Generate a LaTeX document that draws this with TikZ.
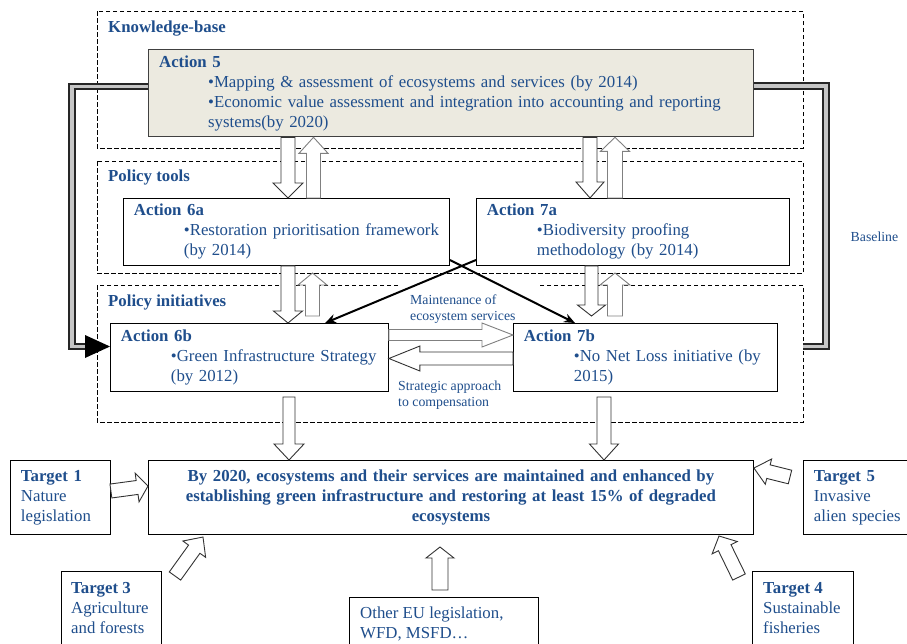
\documentclass[tikz,border=0pt]{standalone}
\usepackage{fontspec}
\setmainfont{Liberation Serif}
\usetikzlibrary{calc,arrows.meta}
\definecolor{txtblue}{RGB}{31,78,140}
\definecolor{beige}{RGB}{236,234,224}
\newcommand\fbig{\fontsize{16.8}{20}\selectfont}
\newcommand\fsml{\fontsize{13.8}{15.5}\selectfont}
\newcommand\myind{\hspace*{50pt}}
\newcommand\blkarr[6][]{%
  \coordinate (baT) at (#2);
  \coordinate (baH) at (#3);
  \coordinate (baB) at ($(baH)!#6!(baT)$);
  \draw[barr,#1] ($(baT)!#4!90:(baH)$) -- ($(baB)!#4!90:(baH)$) -- ($(baB)!#5!90:(baH)$) -- (baH) -- ($(baB)!#5!-90:(baH)$) -- ($(baB)!#4!-90:(baH)$) -- ($(baT)!#4!-90:(baH)$) -- cycle;}
\begin{document}
\begin{tikzpicture}[x=1pt,y=-1pt,
  box/.style={draw=black, line width=0.9pt, fill=white, anchor=north west, inner xsep=10.5pt, inner ysep=0pt, align=left, font=\fbig, text=txtblue},
  txt/.style={font=\fbig, text=txtblue, align=left, inner sep=0pt},
  stxt/.style={font=\fsml, text=txtblue, align=left, inner sep=0pt},
  lbl/.style={font=\fbig\bfseries, text=txtblue, inner sep=0pt},
  region/.style={draw=black, dash pattern=on 4.5pt off 2.5pt, line width=0.7pt},
  barr/.style={fill=white, line width=0.9pt, line join=miter},
  darr/.style={draw=black!80},
  uarr/.style={draw=black!50},
  dbl/.style={draw=black!85, double=gray!45, line width=2.1pt, double distance=3.4pt, line join=miter},
  cross/.style={draw=black, line width=2pt, -{Stealth[length=11pt,width=9pt]}}
]
\useasboundingbox (0,0) rectangle (907,643);
\clip (0,0) rectangle (907,643);
\fill[white] (0,0) rectangle (907,643);

% regions
\draw[region] (97,11) rectangle (803,148);
\node[lbl, anchor=base west] (kbl) at (108,32.5) {Knowledge-base};
\draw[region] (97,161) rectangle (803,273);
\node[lbl, anchor=base west] (ptl) at (108,181.5) {Policy tools};
\draw[region] (398,285) -- (97,285) -- (97,422) -- (803,422) -- (803,285) -- (540,285);
\node[lbl, anchor=base west] (pil) at (108,306.5) {Policy initiatives};

% boxes
\node[box, fill=beige, draw=black!75, line width=1.3pt, text width=584pt, minimum height=87pt] (a5) at (148,49)
 {\textbf{Action 5}\\\hspace*{49pt}\mbox{•Mapping \& assessment of ecosystems and services (by 2014)}\\\hspace*{49pt}\mbox{•Economic value assessment and integration into accounting and reporting}\\\hspace*{49pt}systems(by 2020)};
\node[box, text width=305pt, minimum height=67pt] (a6a) at (123,198)
 {\textbf{Action 6a}\\\myind\mbox{•Restoration prioritisation framework}\\\myind(by 2014)};
\node[box, text width=292pt, minimum height=67pt] (a7a) at (476,198)
 {\textbf{Action 7a}\\\myind\mbox{•Biodiversity proofing}\\\myind\mbox{methodology (by 2014)}};
\node[box, text width=257pt, minimum height=68pt] (a6b) at (110,323)
 {\textbf{Action 6b}\\\myind\mbox{•Green Infrastructure Strategy}\\\myind(by 2012)};
\node[box, text width=243pt, minimum height=68pt] (a7b) at (513,323)
 {\textbf{Action 7b}\\\myind\mbox{•No Net Loss initiative (by}\\\myind 2015)};
\node[box, align=center, text width=584pt, minimum height=74pt, font=\fbig\bfseries] (goal) at (148,460)
 {By 2020, ecosystems and their services are maintained and enhanced by\\establishing green infrastructure and restoring at least 15\% of degraded\\ecosystems};
\node[box, text width=79pt, minimum height=74pt] (t1) at (10,460) {\textbf{Target 1}\\Nature\\legislation};
\node[box, text width=89pt, minimum height=74pt] (t5) at (803,460) {\textbf{Target 5}\\Invasive\\\mbox{alien species}};
\node[box, minimum width=100pt, minimum height=100pt] (t3) at (61,571) {};
\node[txt, anchor=north west] (t3t) at (71,582) {\textbf{Target 3}\\Agriculture\\and forests};
\node[box, minimum width=101pt, minimum height=100pt] (t4) at (752,571) {};
\node[txt, anchor=north west] (t4t) at (763,582) {\textbf{Target 4}\\Sustainable\\fisheries};
\node[box, minimum width=189pt, minimum height=80pt] (oth) at (349,597) {};
\node[txt, anchor=north west] (otht) at (360,606.8) {Other EU legislation,\\WFD, MSFD…};

% labels
\node[stxt, anchor=north west] (mlab) at (410,295) {Maintenance of\\ecosystem services};
\node[stxt, anchor=north west] (slab) at (398,381) {Strategic approach\\to compensation};
\node[stxt, anchor=base west] (bl) at (850.5,241.5) {Baseline};

% baseline double lines
\draw[dbl] (a5.west |- 0,86.5) -- (72,86.5) -- (72,346.5) -- (86,346.5);
\fill[black] (85,335) -- (a6b.west |- 0,346.5) -- (85,358) -- cycle;
\draw[dbl] (a5.east |- 0,86) -- (826,86) -- (826,346.5) -- (803,346.5);

% crossing arrows
\draw[cross] (a7a.west |- 0,260) -- (325,0 |- a6b.north);
\draw[cross] (a6a.east |- 0,260) -- (575,0 |- a7b.north);

% block arrows
\blkarr[darr]{288,0 |- a5.south}{288,0 |- a6a.north}{7pt}{15pt}{15pt}
\blkarr[uarr]{313.5,0 |- a6a.north}{313.5,0 |- a5.south}{7pt}{14.5pt}{16pt}
\blkarr[darr]{590,0 |- a5.south}{590,0 |- a7a.north}{7pt}{14pt}{16pt}
\blkarr[uarr]{615,0 |- a7a.north}{615,0 |- a5.south}{7.5pt}{14.5pt}{14pt}
\blkarr[darr]{288,0 |- a6a.south}{288,0 |- a6b.north}{7pt}{14.5pt}{12pt}
\blkarr[uarr]{312.5,316}{312.5,273}{7pt}{14.5pt}{12pt}
\blkarr[darr]{591.5,0 |- a7a.south}{591.5,316}{6.5pt}{14pt}{11pt}
\blkarr[uarr]{615,316}{615,273}{7.5pt}{15pt}{12pt}
\blkarr[darr]{289,397}{289,0 |- goal.north}{6pt}{15pt}{16pt}
\blkarr[darr]{604,397}{604,0 |- goal.north}{7pt}{14.5pt}{16pt}
\blkarr[uarr]{a6b.east |- 0,335}{a7b.west |- 0,335}{5.5pt}{12pt}{31pt}
\blkarr[darr]{a7b.west |- 0,358.5}{a6b.east |- 0,358.5}{6.5pt}{12.5pt}{31pt}
\blkarr[darr]{t1.east |- 0,491}{goal.west |- 0,486}{7pt}{14.5pt}{11pt}
\blkarr[darr]{790,477}{goal.east |- 0,468}{7pt}{13pt}{15pt}
\blkarr[darr]{175,576}{203,537}{7pt}{14pt}{15pt}
\blkarr[darr]{739,577}{719,536}{7pt}{14pt}{13pt}
\blkarr[darr]{440,590}{440,547}{8pt}{14pt}{11pt}
\end{tikzpicture}
\end{document}
